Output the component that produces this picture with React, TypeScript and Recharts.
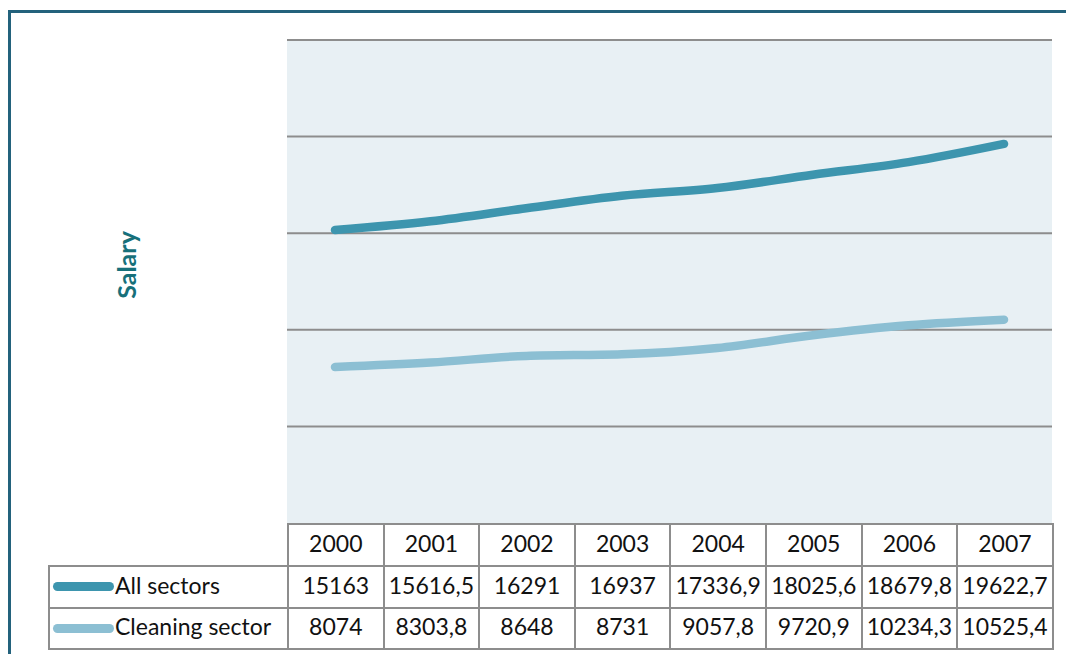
import React from 'react';
import { LineChart, Line, XAxis, YAxis, CartesianGrid } from 'recharts';

const years = ['2000', '2001', '2002', '2003', '2004', '2005', '2006', '2007'];
const allSectors = [15163, 15616.5, 16291, 16937, 17336.9, 18025.6, 18679.8, 19622.7];
const cleaningSector = [8074, 8303.8, 8648, 8731, 9057.8, 9720.9, 10234.3, 10525.4];
const allSectorsLabels = ['15163', '15616,5', '16291', '16937', '17336,9', '18025,6', '18679,8', '19622,7'];
const cleaningLabels = ['8074', '8303,8', '8648', '8731', '9057,8', '9720,9', '10234,3', '10525,4'];
const yTicks = [0, 5000, 10000, 15000, 20000, 25000];
const seriesNames = ['All sectors', 'Cleaning sector'];

const COLOR_ALL = '#3d95ae';
const COLOR_CLEAN = '#8cbfd3';
const GRID = '#8d8d8d';
const FONT = 'Lato, "Open Sans", sans-serif';

const data = years.map((y, i) => ({ year: y, all: allSectors[i], clean: cleaningSector[i] }));

const cellStyle: React.CSSProperties = {
  border: `2px solid ${GRID}`,
  textAlign: 'center',
  padding: 0,
  paddingBottom: 5,
  fontSize: 23,
  color: '#111',
  whiteSpace: 'nowrap',
  overflow: 'hidden',
};

function LegendKey({ color }: { color: string }) {
  return (
    <span
      style={{
        display: 'inline-block',
        width: 61,
        height: 9,
        borderRadius: 5,
        background: color,
        verticalAlign: 'middle',
        marginRight: 1,
        marginLeft: 3,
        position: 'relative',
        top: -1,
      }}
    />
  );
}

export default function App() {
  const rows = [
    { name: seriesNames[0], color: COLOR_ALL, labels: allSectorsLabels, h: 42 },
    { name: seriesNames[1], color: COLOR_CLEAN, labels: cleaningLabels, h: 41 },
  ];
  return (
    <div style={{ paddingTop: 2 }}>
      <style>{'html,body{overflow:hidden;}'}</style>
      <div style={{ position: 'relative', width: 1066, height: 644, fontFamily: FONT }}>
        <div
          style={{
            position: 'absolute',
            left: 0,
            top: 0,
            width: 1100,
            height: 644,
            borderLeft: '3px solid #23627c',
            borderTop: '3px solid #23627c',
            boxSizing: 'border-box',
          }}
        />
        <div style={{ position: 'absolute', left: 0, top: 0 }}>
          <LineChart width={1066} height={644} data={data} margin={{ top: 30, right: 22, bottom: 131, left: 279 }}>
            <CartesianGrid
              vertical={false}
              stroke={GRID}
              strokeWidth={2}
              fill="#e8f0f4"
              horizontalValues={[5000, 10000, 15000, 20000, 25000]}
            />
            <XAxis dataKey="year" hide padding={{ left: 48, right: 48 }} />
            <YAxis hide domain={[0, 25000]} ticks={yTicks} />
            <Line
              type="monotone"
              dataKey="all"
              stroke={COLOR_ALL}
              strokeWidth={8.5}
              strokeLinecap="round"
              dot={false}
              isAnimationActive={false}
            />
            <Line
              type="monotone"
              dataKey="clean"
              stroke={COLOR_CLEAN}
              strokeWidth={8.5}
              strokeLinecap="round"
              dot={false}
              isAnimationActive={false}
            />
          </LineChart>
        </div>
        <div
          style={{
            position: 'absolute',
            left: 118,
            top: 255,
            transform: 'translate(-50%, -50%) rotate(-90deg)',
            fontSize: 25,
            fontWeight: 700,
            color: '#17707a',
            whiteSpace: 'nowrap',
          }}
        >
          Salary
        </div>
        <table
          style={{
            position: 'absolute',
            left: 40,
            top: 513,
            width: 1004,
            borderCollapse: 'collapse',
            tableLayout: 'fixed',
            fontFamily: FONT,
          }}
        >
          <colgroup>
            <col style={{ width: 239 }} />
            {years.map((y) => (
              <col key={y} style={{ width: 95.6 }} />
            ))}
          </colgroup>
          <tbody>
            <tr style={{ height: 42 }}>
              <td style={{ ...cellStyle, borderTop: 'none', borderLeft: 'none' }} />
              {years.map((y) => (
                <td key={y} style={cellStyle}>
                  {y}
                </td>
              ))}
            </tr>
            {rows.map((r) => (
              <tr key={r.name} style={{ height: r.h }}>
                <td style={{ ...cellStyle, textAlign: 'left' }}>
                  <LegendKey color={r.color} />
                  {r.name}
                </td>
                {r.labels.map((v, i) => (
                  <td key={i} style={cellStyle}>
                    {v}
                  </td>
                ))}
              </tr>
            ))}
          </tbody>
        </table>
      </div>
    </div>
  );
}
